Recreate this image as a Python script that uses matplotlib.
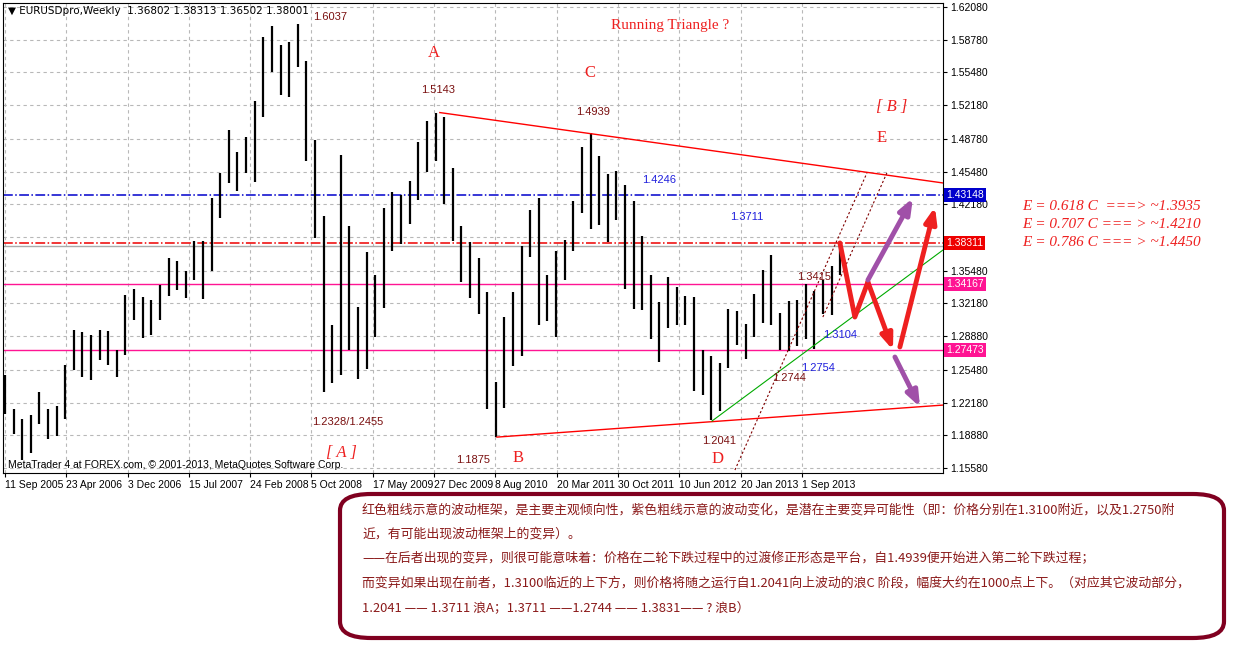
import numpy as np
import matplotlib
matplotlib.use("Agg")
import matplotlib.pyplot as plt
from matplotlib.patches import FancyBboxPatch

# monthly high / low, Sep 2005 .. Oct 2013
highs = [1.2500, 1.2150, 1.2050, 1.2090,
         1.2320, 1.2150, 1.2180, 1.2600, 1.2950, 1.2930, 1.2900, 1.2950, 1.2940, 1.2750, 1.3300, 1.3360,
         1.3280, 1.3250, 1.3400, 1.3680, 1.3650, 1.3550, 1.3850, 1.3850, 1.4280, 1.4530, 1.4970, 1.4750,
         1.4900, 1.5260, 1.5910, 1.6020, 1.5820, 1.5850, 1.6037, 1.5660, 1.4870, 1.4100, 1.3000, 1.4720,
         1.4000, 1.3180, 1.3740, 1.3500, 1.4180, 1.4340, 1.4310, 1.4450, 1.4850, 1.5060, 1.5143, 1.5100,
         1.4580, 1.4000, 1.3840, 1.3680, 1.3330, 1.2430, 1.3080, 1.3330, 1.3800, 1.4160, 1.4280, 1.3500,
         1.3750, 1.3860, 1.4250, 1.4800, 1.4939, 1.4700, 1.4520, 1.4550, 1.4410, 1.4250, 1.3900, 1.3500,
         1.3230, 1.3480, 1.3380, 1.3290, 1.3280, 1.2750, 1.2690, 1.2620, 1.3160, 1.3140, 1.3010, 1.3310,
         1.3560, 1.3711, 1.3120, 1.3240, 1.3250, 1.3415, 1.3340, 1.3450, 1.3600, 1.3831]
lows = [1.2100, 1.1900, 1.1640, 1.1710,
        1.2000, 1.1850, 1.1880, 1.2050, 1.2550, 1.2480, 1.2450, 1.2650, 1.2600, 1.2480, 1.2700, 1.3050,
        1.2870, 1.2900, 1.3050, 1.3290, 1.3350, 1.3270, 1.3450, 1.3260, 1.3550, 1.4080, 1.4430, 1.4350,
        1.4530, 1.4440, 1.5100, 1.5550, 1.5320, 1.5300, 1.5600, 1.4650, 1.3880, 1.2328, 1.2420, 1.2500,
        1.2750, 1.2455, 1.2560, 1.2880, 1.3170, 1.3750, 1.3820, 1.4020, 1.4260, 1.4540, 1.4650, 1.4220,
        1.3850, 1.3430, 1.3270, 1.3110, 1.2150, 1.1875, 1.2160, 1.2590, 1.2690, 1.3690, 1.3000, 1.3040,
        1.2880, 1.3450, 1.3750, 1.4130, 1.3970, 1.4010, 1.3840, 1.4060, 1.3360, 1.3160, 1.3150, 1.2860,
        1.2630, 1.2970, 1.3000, 1.3000, 1.2330, 1.2290, 1.2041, 1.2130, 1.2570, 1.2800, 1.2660, 1.2880,
        1.3020, 1.3000, 1.2744, 1.2740, 1.2790, 1.2860, 1.2754, 1.3110, 1.3104, 1.3500]

xtick_labels = ["11 Sep 2005", "23 Apr 2006", "3 Dec 2006", "15 Jul 2007", "24 Feb 2008",
                "5 Oct 2008", "17 May 2009", "27 Dec 2009", "8 Aug 2010", "20 Mar 2011",
                "30 Oct 2011", "10 Jun 2012", "20 Jan 2013", "1 Sep 2013"]
yticks = [1.62080, 1.58780, 1.55480, 1.52180, 1.48780, 1.45480, 1.42180, 1.38880,
          1.35480, 1.32180, 1.28880, 1.25480, 1.22180, 1.18880, 1.15580]
levels = {"blue": 1.43148, "red": 1.38311, "pink1": 1.34167, "pink2": 1.27473, "grey": 1.3800}

# trend lines and arrows, (bar week, price)
upper_line = [(227.0, 1.5143), (489.6, 1.4433)]
lower_line = [(256.8, 1.1870), (489.6, 1.2193)]
green_line = [(369.0, 1.2032), (489.6, 1.3757)]
dot_line1 = [(381.0, 1.1538), (449.9, 1.4534)]
dot_line2 = [(426.9, 1.3081), (460.3, 1.4534)]
red_path = [(435.8, 1.3828), (443.6, 1.3081), (450.4, 1.3434), (463.5, 1.2748)]
red_up = [(467.1, 1.2779), (485.4, 1.4191)]
purple_up = [(450.4, 1.3454), (473.9, 1.4281)]
purple_down = [(464.5, 1.2678), (477.6, 1.2173)]

plt.rcParams["font.family"] = ["Liberation Sans", "DejaVu Sans"]
fig = plt.figure(figsize=(12.5, 6.58), dpi=100)
ax = fig.add_axes([3 / 1250, 1 - 473 / 658, 940 / 1250, 470 / 658])
ax.set_xlim(-1, 489.6)
ax.set_ylim(1.1508, 1.6248)

n = len(highs)
xs = np.arange(n) * (436 / (n - 1))
ax.vlines(xs, lows, highs, color="black", lw=1.6, zorder=3)

ax.set_xticks(np.arange(len(xtick_labels)) * 32)
ax.set_xticklabels(xtick_labels, fontsize=7.5)
for lab in ax.get_xticklabels():
    lab.set_horizontalalignment("left")
ax.yaxis.tick_right()
ax.set_yticks(yticks)
ax.set_yticklabels(["" if v == 1.38880 else f"{v:.5f}" for v in yticks], fontsize=7.5)
ax.tick_params(length=3, pad=2)
ax.grid(True, color="#b8b8b8", ls=(0, (3, 3)), lw=0.8)
for s in ax.spines.values():
    s.set_linewidth(0.8)

ax.axhline(levels["blue"], color="#0000cc", ls="-.", lw=1.1, zorder=2)
ax.axhline(levels["red"], color="#ee0000", ls="-.", lw=1.1, zorder=2)
ax.axhline(levels["grey"], color="#aaaaaa", lw=1, zorder=2)
ax.axhline(levels["pink1"], color="#ff1493", lw=1, zorder=2)
ax.axhline(levels["pink2"], color="#ff1493", lw=1, zorder=2)

def seg(pts, **kw):
    ax.plot([p[0] for p in pts], [p[1] for p in pts], **kw)

seg(upper_line, color="red", lw=1, zorder=4)
seg(lower_line, color="red", lw=1, zorder=4)
seg(green_line, color="#00aa00", lw=0.8, zorder=4)
seg(dot_line1, color="#800000", lw=0.8, ls=(0, (2, 2)), zorder=4)
seg(dot_line2, color="#800000", lw=0.8, ls=(0, (2, 2)), zorder=4)
seg(red_path[:3], color="#ee2020", lw=3.5, zorder=5, solid_capstyle="round")

def arrow(p0, p1, col):
    ax.annotate("", xy=p1, xytext=p0,
                arrowprops=dict(arrowstyle="-|>,head_length=0.9,head_width=0.35",
                                color=col, lw=3.5, shrinkA=0, shrinkB=0), zorder=5)

arrow(red_path[2], red_path[3], "#ee2020")
arrow(red_up[0], red_up[1], "#ee2020")
arrow(purple_up[0], purple_up[1], "#a050a8")
arrow(purple_down[0], purple_down[1], "#a050a8")

# price boxes on the right axis
for val, bg in [(levels["blue"], "#0000cc"), (levels["red"], "#ee0000"),
                (levels["pink1"], "#ff1493"), (levels["pink2"], "#ff1493")]:
    ax.text(1.003, (val - 1.1508) / (1.6248 - 1.1508), f"{val:.5f}", transform=ax.transAxes,
            color="white", fontsize=7.5, va="center", ha="left",
            bbox=dict(boxstyle="square,pad=0.2", fc=bg, ec="none"))

def ftxt(x, y, s, **kw):
    fig.text(x / 1250, 1 - y / 658, s, **kw)

dark = "#7a1010"
blue = "#2020dd"
serif = "Liberation Serif"
ftxt(8, 11, "▼ EURUSDpro,Weekly  1.36802 1.38313 1.36502 1.38001", fontsize=7.5, va="center",
     family=["DejaVu Sans"])
ftxt(8, 465, "MetaTrader 4 at FOREX.com, © 2001-2013, MetaQuotes Software Corp.", fontsize=7.5, va="center")
for x, y, s, c in [(313, 17, "1.6037", dark), (421, 90, "1.5143", dark), (576, 112, "1.4939", dark),
                   (642, 180, "1.4246", blue), (730, 217, "1.3711", blue), (797, 277, "1.3415", dark),
                   (823, 335, "1.3104", blue), (801, 368, "1.2754", blue), (772, 378, "1.2744", dark),
                   (702, 441, "1.2041", dark), (456, 460, "1.1875", dark), (312, 422, "1.2328/1.2455", dark)]:
    ftxt(x, y, s, color=c, fontsize=8, va="center")
for x, y, s in [(434, 53, "A"), (590, 73, "C"), (882, 138, "E"), (718, 459, "D"), (518, 458, "B")]:
    ftxt(x, y, s, color="#ee2020", fontsize=12, family=serif, ha="center", va="center")
ftxt(670, 26, "Running Triangle ?", color="#ee2020", fontsize=11, family=serif, ha="center", va="center")
ftxt(892, 107, "[ B ]", color="#ee2020", fontsize=12, family=serif, style="italic", ha="center", va="center")
ftxt(341, 453, "[ A ]", color="#ee2020", fontsize=12, family=serif, style="italic", ha="center", va="center")

for i, s in enumerate(["E = 0.618 C  ===> ~1.3935", "E = 0.707 C === > ~1.4210", "E = 0.786 C === > ~1.4450"]):
    ftxt(1022, 206 + 18 * i, s, color="#ee2020", fontsize=11, family=serif, style="italic", va="center")

box = FancyBboxPatch((340 / 1250, 1 - 638 / 658), 884 / 1250, 144 / 658,
                     boxstyle="round,pad=0,rounding_size=0.025", transform=fig.transFigure,
                     fc="white", ec="#800020", lw=3)
fig.patches.append(box)
note = ["红色粗线示意的波动框架，是主要主观倾向性，紫色粗线示意的波动变化，是潜在主要变异可能性（即：价格分别在1.3100附近，以及1.2750附",
        "近，有可能出现波动框架上的变异）。",
        "——在后者出现的变异，则很可能意味着：价格在二轮下跌过程中的过渡修正形态是平台，自1.4939便开始进入第二轮下跌过程；",
        "而变异如果出现在前者，1.3100临近的上下方，则价格将随之运行自1.2041向上波动的浪C 阶段，幅度大约在1000点上下。（对应其它波动部分，",
        "1.2041 —— 1.3711 浪A；1.3711 ——1.2744 —— 1.3831—— ? 浪B）"]
for i, s in enumerate(note):
    ftxt(362, 510 + 24.5 * i, s, color="#8b1a1a", fontsize=9.3,
         family=["Noto Sans CJK SC", "DejaVu Sans"], va="center")

fig.savefig("out.png", dpi=100)
